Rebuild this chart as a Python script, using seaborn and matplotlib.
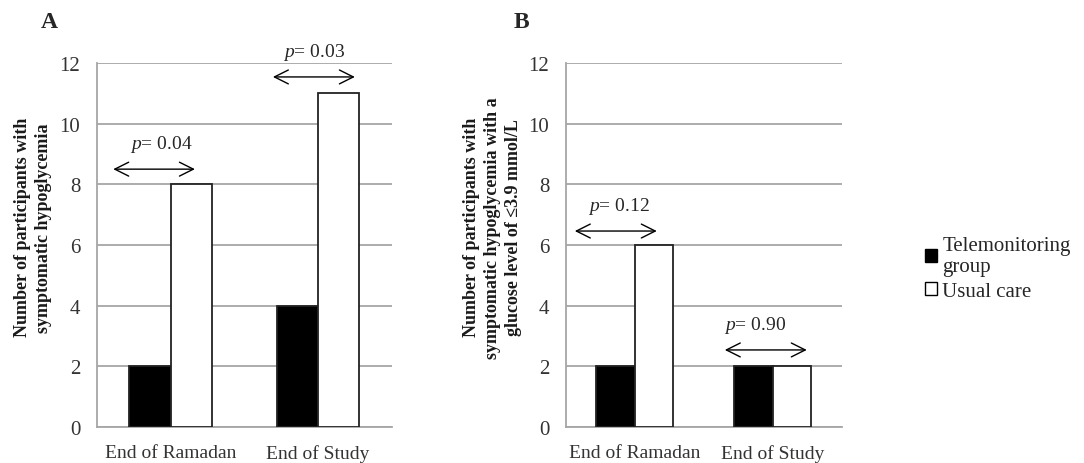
import pandas as pd
import seaborn as sns
import matplotlib.pyplot as plt
from matplotlib.patches import Patch

# data
timepoints = ['End of Ramadan', 'End of Study']
groups = ['Telemonitoring group', 'Usual care']
panel_a_tele = [2, 4]
panel_a_usual = [8, 11]
panel_b_tele = [2, 2]
panel_b_usual = [6, 2]
p_values_a = ['0.04', '0.03']
p_values_b = ['0.12', '0.90']

sns.set_theme(style='white')
plt.rcParams['font.family'] = ['Liberation Serif', 'DejaVu Serif']
plt.rcParams['mathtext.fontset'] = 'custom'
plt.rcParams['mathtext.it'] = 'Liberation Serif:italic'
plt.rcParams['mathtext.rm'] = 'Liberation Serif'


def make_frame(tele, usual):
    rows = []
    for tp, t, u in zip(timepoints, tele, usual):
        rows.append({'timepoint': tp, 'group': groups[0], 'count': t})
        rows.append({'timepoint': tp, 'group': groups[1], 'count': u})
    return pd.DataFrame(rows)


def draw_panel(ax, df, ylabel, label_x, pvals, arrows, letter):
    sns.barplot(data=df, x='timepoint', y='count', hue='group', ax=ax,
                palette={groups[0]: 'black', groups[1]: 'white'},
                width=0.56, gap=0, edgecolor='#222222', linewidth=1.3,
                legend=False, zorder=3)
    ax.set_ylim(0, 12)
    ax.set_xlim(-0.5, 1.5)
    ax.set_yticks(range(0, 13, 2))
    ax.yaxis.grid(True, color='#a6a6a6', linewidth=1.3, zorder=0)
    ax.set_axisbelow(True)
    for side in ['top', 'right']:
        ax.spines[side].set_visible(False)
    for side in ['left', 'bottom']:
        ax.spines[side].set_color('#a6a6a6')
        ax.spines[side].set_linewidth(1.3)
    ax.tick_params(axis='y', length=0, labelsize=15, colors='#333333', pad=12)
    ax.tick_params(axis='x', length=0, labelsize=14, colors='#333333', pad=12)
    ax.set_xlabel('')
    ax.set_ylabel(ylabel, fontsize=13, fontweight='bold', color='#1a1a1a',
                  linespacing=1.3)
    ax.yaxis.set_label_coords(label_x, 0.55)

    # p-value arrows: (x start, x end, y) in data units, text sits above
    for p, (x0, x1, y, xt) in zip(pvals, arrows):
        ax.annotate('', xy=(x1, y), xytext=(x0, y),
                    arrowprops=dict(arrowstyle='<->, head_length=0.5, head_width=0.25',
                                    color='black', lw=1.0, mutation_scale=20,
                                    shrinkA=0, shrinkB=0),
                    annotation_clip=False)
        ax.text(xt, y + 0.84, f'$\\it{{p}}$= {p}',
                ha='center', va='center', fontsize=14, clip_on=False)

    ax.text(-0.19, 1.115, letter, transform=ax.transAxes, fontsize=17,
            fontweight='bold', ha='left', va='center')


fig = plt.figure(figsize=(10.84, 4.64), dpi=100)
ax_a = fig.add_axes([0.0895, 0.0776, 0.272, 0.7845])
ax_b = fig.add_axes([0.522, 0.0776, 0.2546, 0.7845])

draw_panel(ax_a, make_frame(panel_a_tele, panel_a_usual),
           'Number of participants with\nsymptomatic hypoglycemia', -0.153,
           p_values_a, [(-0.39, 0.164, 8.5, -0.066), (0.693, 1.249, 11.54, 0.971)], 'A')
draw_panel(ax_b, make_frame(panel_b_tele, panel_b_usual),
           'Number of participants with\nsymptomatic hypoglycemia with a\nglucose level of \u22643.9 mmol/L',
           -0.16,
           p_values_b, [(-0.435, 0.159, 6.46, -0.116), (0.652, 1.246, 2.54, 0.87)], 'B')

handles = [Patch(facecolor='black', edgecolor='black', label='Telemonitoring\ngroup'),
           Patch(facecolor='white', edgecolor='black', label='Usual care')]
fig.legend(handles=handles, loc='center left', bbox_to_anchor=(0.853, 0.42),
           frameon=False, fontsize=15, handlelength=0.6, handleheight=0.6,
           handletextpad=0.25, labelspacing=0.25, borderpad=0, borderaxespad=0)

fig.savefig('out.png', dpi=100)
